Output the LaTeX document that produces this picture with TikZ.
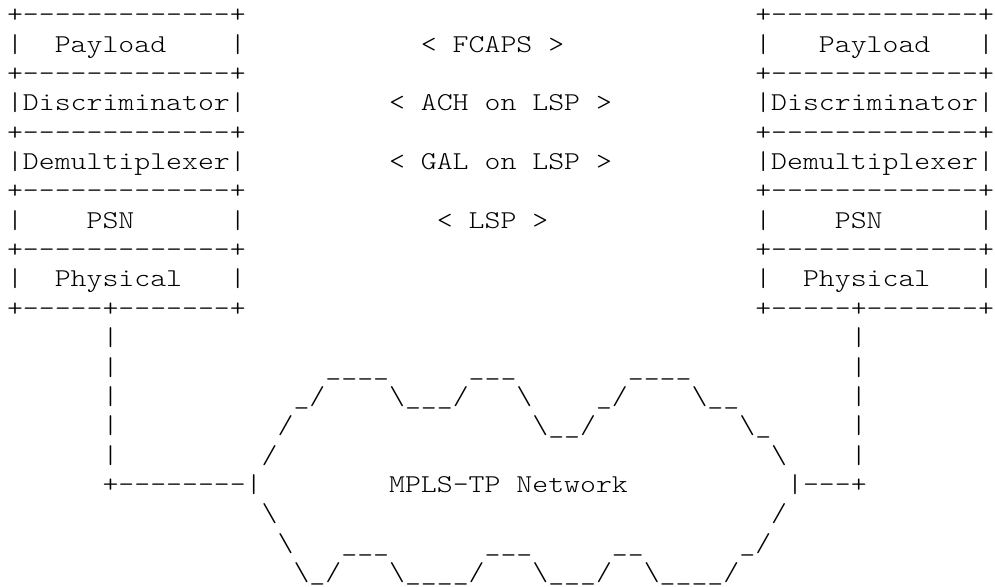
\documentclass[tikz,border=0pt]{standalone}
% Light monospaced typewriter face, widened so that one character fills one cell
\font\asciifnt="[lmmonolt10-regular]:extend=1.18" at 12.85pt
\newcommand\bs{\char92\relax}
\newcommand\us{\char95\relax}
\tikzset{
  asc/.style={font=\asciifnt, anchor=base west, inner sep=0pt, outer sep=0pt,
    text=black, execute at begin node={\spaceskip=7.96pt\relax}},
}
% \asciiseg{name}{column}{row}{characters}
\newcommand\asciiseg[4]{\node[asc] (#1) at ({#2+0.44},{#3+0.777}) {#4};}

\begin{document}
\begin{tikzpicture}[x=7.96pt, y=-14.675pt]
\useasboundingbox (0,0) rectangle (62.5,19.966);

% ---- protocol stacks (left at column 0, right at column 47)
\foreach \r in {0,2,4,6,8} {
  \node[asc] (lrule\r) at (0.44,\r+0.777) {+-------------+};
  \node[asc] (rrule\r) at (47.44,\r+0.777) {+-------------+};
}
\asciiseg{lpayL}{0}{1}{|}
\asciiseg{lpay}{3}{1}{Payload}
\asciiseg{lpayR}{14}{1}{|}
\asciiseg{rpayL}{47}{1}{|}
\asciiseg{rpay}{51}{1}{Payload}
\asciiseg{rpayR}{61}{1}{|}

\asciiseg{ldisc}{0}{3}{|Discriminator|}
\asciiseg{rdisc}{47}{3}{|Discriminator|}

\asciiseg{ldemux}{0}{5}{|Demultiplexer|}
\asciiseg{rdemux}{47}{5}{|Demultiplexer|}

\asciiseg{lpsnL}{0}{7}{|}
\asciiseg{lpsn}{5}{7}{PSN}
\asciiseg{lpsnR}{14}{7}{|}
\asciiseg{rpsnL}{47}{7}{|}
\asciiseg{rpsn}{52}{7}{PSN}
\asciiseg{rpsnR}{61}{7}{|}

\asciiseg{lphyL}{0}{9}{|}
\asciiseg{lphy}{3}{9}{Physical}
\asciiseg{lphyR}{14}{9}{|}
\asciiseg{rphyL}{47}{9}{|}
\asciiseg{rphy}{50}{9}{Physical}
\asciiseg{rphyR}{61}{9}{|}

\asciiseg{lbottom}{0}{10}{+-----+-------+}
\asciiseg{rbottom}{47}{10}{+-----+-------+}

% ---- layer labels between the stacks
\asciiseg{fcaps}{26}{1}{< FCAPS >}
\asciiseg{ach}{24}{3}{< ACH on LSP >}
\asciiseg{gal}{24}{5}{< GAL on LSP >}
\asciiseg{lsp}{27}{7}{< LSP >}

% ---- attachment lines down to the network
\foreach \r in {11,...,15} {
  \node[asc] (ldrop\r) at (6.44,\r+0.777) {|};
  \node[asc] (rdrop\r) at (53.44,\r+0.777) {|};
}

% ---- MPLS-TP network cloud
\asciiseg{c12a}{20}{12}{\us\us\us\us}
\asciiseg{c12b}{29}{12}{\us\us\us}
\asciiseg{c12c}{39}{12}{\us\us\us\us}

\asciiseg{c13a}{18}{13}{\us/}
\asciiseg{c13b}{24}{13}{\bs\us\us\us/}
\asciiseg{c13c}{32}{13}{\bs}
\asciiseg{c13d}{37}{13}{\us/}
\asciiseg{c13e}{43}{13}{\bs\us\us}

\asciiseg{c14a}{17}{14}{/}
\asciiseg{c14b}{33}{14}{\bs\us\us/}
\asciiseg{c14c}{46}{14}{\bs\us}

\asciiseg{c15a}{16}{15}{/}
\asciiseg{c15b}{48}{15}{\bs}

\asciiseg{lattach}{6}{16}{+--------|}
\asciiseg{net}{24}{16}{MPLS-TP Network}
\asciiseg{rattach}{49}{16}{|---+}

\asciiseg{c17a}{16}{17}{\bs}
\asciiseg{c17b}{48}{17}{/}

\asciiseg{c18a}{17}{18}{\bs}
\asciiseg{c18b}{21}{18}{\us\us\us}
\asciiseg{c18c}{30}{18}{\us\us\us}
\asciiseg{c18d}{38}{18}{\us\us}
\asciiseg{c18e}{46}{18}{\us/}

\asciiseg{c19a}{18}{19}{\bs\us/}
\asciiseg{c19b}{24}{19}{\bs\us\us\us\us/}
\asciiseg{c19c}{33}{19}{\bs\us\us\us/}
\asciiseg{c19d}{40}{19}{\bs\us\us\us\us/}
\end{tikzpicture}
\end{document}
